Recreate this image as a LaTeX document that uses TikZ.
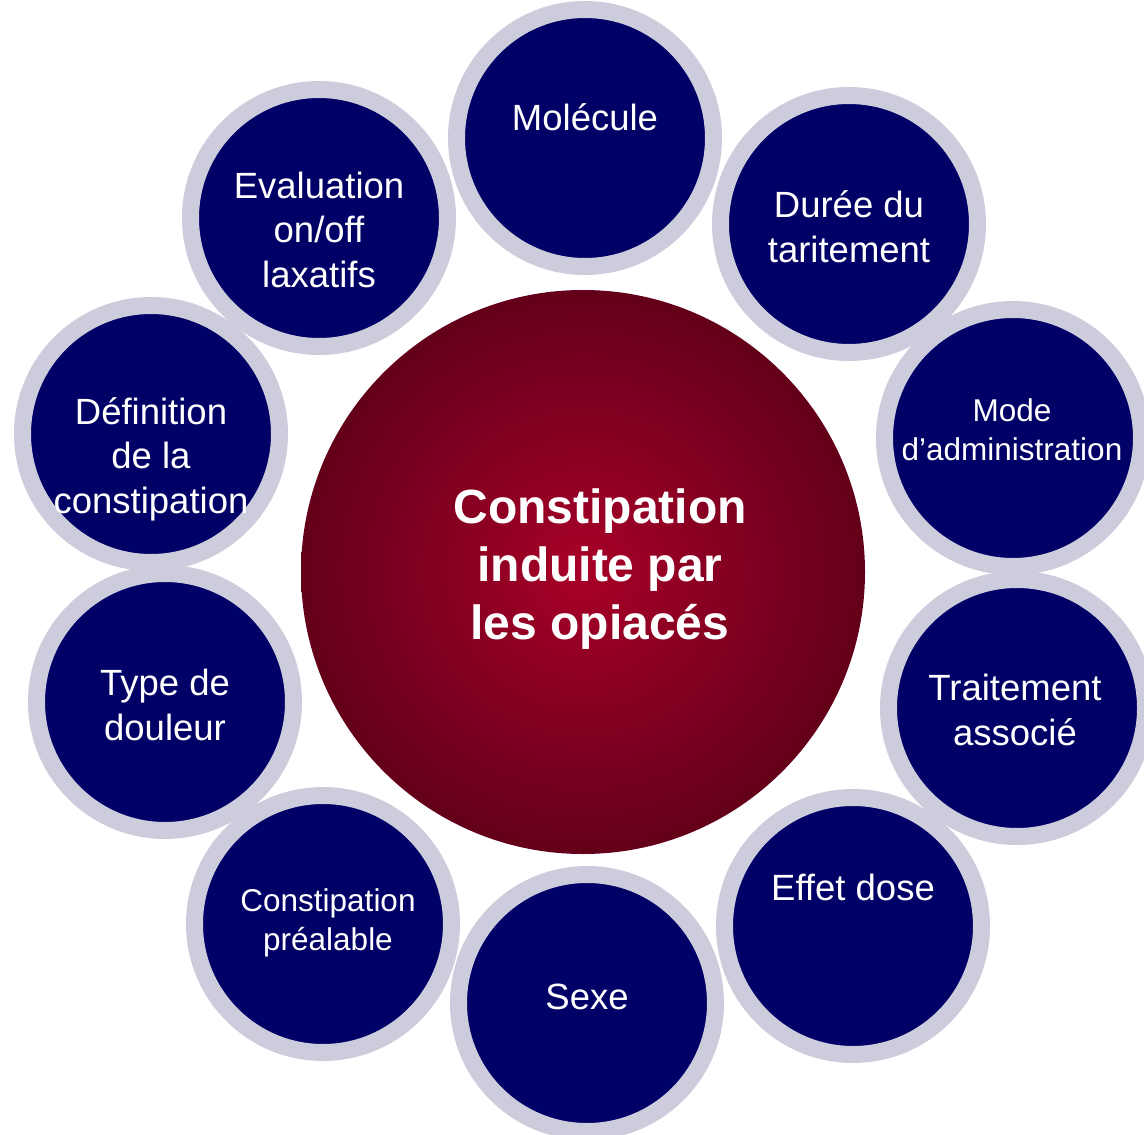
\documentclass[tikz,border=0pt]{standalone}
\usepackage{fontspec}
\setmainfont{Liberation Sans}
\definecolor{bubblenavy}{RGB}{0,0,102}
\definecolor{halo}{RGB}{204,204,220}
\definecolor{glowin}{RGB}{168,0,40}
\definecolor{glowmid}{RGB}{118,0,30}
\definecolor{glowout}{RGB}{66,0,15}
\pgfdeclareradialshading{glow}{\pgfpoint{0bp}{0bp}}{color(0bp)=(glowin); color(18bp)=(glowmid); color(38bp)=(glowout); color(50bp)=(glowout)}
\tikzset{
  bubble/.style={circle, fill=bubblenavy, draw=halo, line width=17pt, minimum size=257pt, inner sep=0pt},
  bubtext/.style={text=white, align=center, inner sep=0pt, anchor=base, font=\fontsize{36.5}{44.5}\selectfont},
  smalltext/.style={bubtext, font=\fontsize{31.5}{38.5}\selectfont}
}
\begin{document}
\begin{tikzpicture}[x=1pt, y=-1pt]
\useasboundingbox (0,0) rectangle (1144,1135);
\node[circle, minimum size=564pt, inner sep=0pt, shading=glow] (centre) at (583,572) {};
\node[text=white, align=center, inner sep=0pt, anchor=base, font=\bfseries\fontsize{48}{58}\selectfont] (centre-t) at (600,639) {Constipation\\induite par\\les opiacés};
\node[bubble] (mol) at (585,138) {};
\node[bubble] (duree) at (849,224) {};
\node[bubble] (mode) at (1013,438) {};
\node[bubble] (trait) at (1017,708) {};
\node[bubble] (effet) at (853,926) {};
\node[bubble] (sexe) at (587,1003) {};
\node[bubble] (prealable) at (323,924) {};
\node[bubble] (douleur) at (165,702) {};
\node[bubble] (definition) at (151,434) {};
\node[bubble] (evaluation) at (319,218) {};
\node[bubtext] (mol-t) at (585,130) {Molécule};
\node[bubtext] (duree-t) at (849,262) {Durée du\\taritement};
\node[smalltext] (mode-t) at (1012,460) {Mode\\d’administration};
\node[bubtext] (trait-t) at (1015,745) {Traitement\\associé};
\node[bubtext] (effet-t) at (853,900) {Effet dose};
\node[bubtext] (sexe-t) at (587,1009) {Sexe};
\node[smalltext] (prealable-t) at (328,950) {Constipation\\préalable};
\node[bubtext] (douleur-t) at (165,740) {Type de\\douleur};
\node[bubtext] (definition-t) at (151,513) {Définition\\de la\\constipation};
\node[bubtext] (evaluation-t) at (319,287) {Evaluation\\on/off\\laxatifs};
\end{tikzpicture}
\end{document}
